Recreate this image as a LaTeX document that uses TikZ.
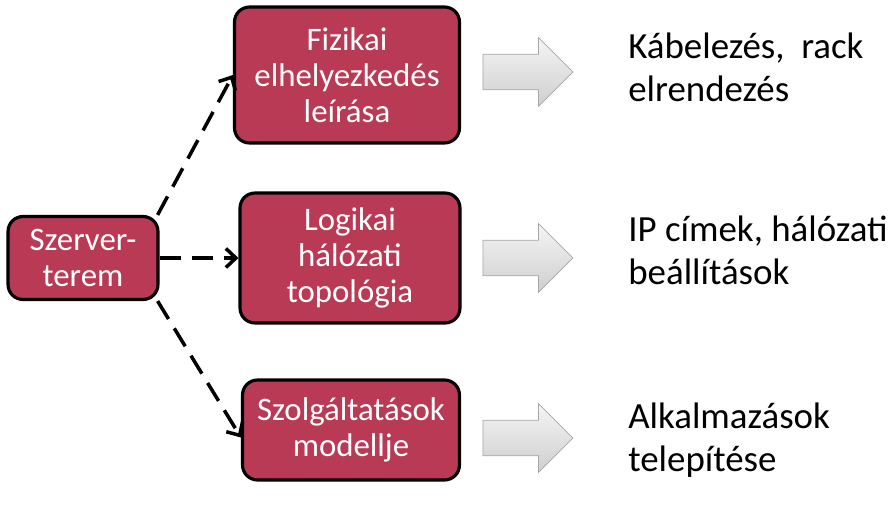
\documentclass[tikz,border=0pt]{standalone}
\usepackage{fontspec}
\setmainfont{Carlito}
\usetikzlibrary{arrows.meta,shapes.arrows}
\definecolor{boxred}{RGB}{185,58,85}
\begin{document}
\begin{tikzpicture}[x=0.02cm, y=-0.02cm,
        % Red topic boxes
        topic/.style={draw=black, line width=1.8pt, fill=boxred, rounded corners=0.3cm, text=white, align=center, font=\fontsize{18.7}{20.5}\selectfont, inner sep=0pt},
        % Grey block arrows
        blockarrow/.style={single arrow, draw=gray!70, top color=gray!8, bottom color=gray!38, minimum height=1.8cm, single arrow head extend=0.33cm, inner xsep=0pt, inner ysep=0.35cm},
        % Right hand texts
        result/.style={anchor=west, align=left, font=\fontsize{21}{24.5}\selectfont, inner sep=0pt},
        % Dashed links
        link/.style={line width=2pt, dash pattern=on 0.42cm off 0.22cm, -{Straight Barb[length=0.2cm, width=0.38cm]}}
    ]

    \useasboundingbox (0,0) rectangle (893,510);

    % Left box
    \node[topic, minimum width=3cm, minimum height=1.66cm] (szerver) at (83, 258) {Szerver-\\terem};

    % Middle column
    \node[topic, minimum width=4.5cm, minimum height=2.72cm] (fizikai) at (347, 75) {Fizikai\\elhelyezkedés\\leírása};
    \node[topic, minimum width=4.4cm, minimum height=2.6cm] (logikai) at (350, 258) {Logikai\\hálózati\\topológia};
    \node[topic, minimum width=4.34cm, minimum height=2cm] (szolg) at (351, 430) {Szolgáltatások\\modellje};

    % Block arrows
    \node[blockarrow] (nyil1) at (519, 72) {};
    \node[blockarrow] (nyil2) at (519, 258) {};
    \node[blockarrow] (nyil3) at (519, 438) {};

    % Results
    \node[result] (kabel) at (628, 67) {Kábelezés,\ \ rack\\elrendezés};
    \node[result] (ip) at (628, 250) {IP címek, hálózati\\beállítások};
    \node[result] (alk) at (628, 440) {Alkalmazások\\telepítése};

    % Links
    \draw[link] (szerver.30) -- (fizikai.west);
    \draw[link] (szerver.east) -- (logikai.west);
    \draw[link] (szerver.-30) -- ([yshift=-0.15cm]szolg.west);

\end{tikzpicture}
\end{document}
